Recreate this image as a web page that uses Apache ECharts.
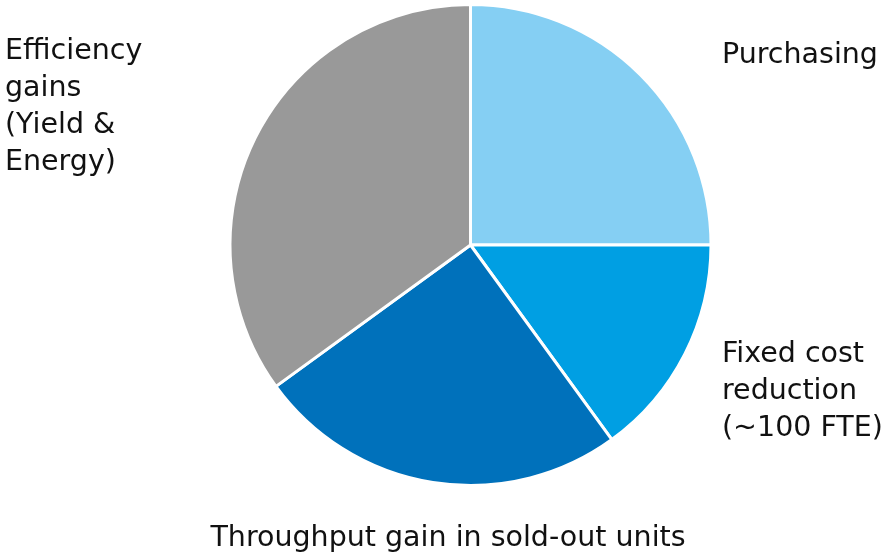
<!DOCTYPE html>
<html>
<head>
<meta charset="utf-8">
<script src="https://cdn.jsdelivr.net/npm/echarts@6/dist/echarts.min.js"></script>
<style>
html,body{margin:0;padding:0;background:#fff;}
#chart{width:881px;height:556px;}
</style>
</head>
<body>
<div id="chart"></div>
<script>
const categories = ['Purchasing', 'Fixed cost\nreduction\n(~100 FTE)', 'Throughput gain in sold-out units', 'Efficiency\ngains\n(Yield &\nEnergy)'];
const values = [25, 15, 25, 35];
const colors = ['#85CFF3', '#009FE3', '#0071BB', '#999999'];

// label anchor placements (x, y, align, verticalAlign) per slice
const labelPlacement = [
  {x: 722, y: 56, align: 'left', verticalAlign: 'middle'},
  {x: 722, y: 392, align: 'left', verticalAlign: 'middle'},
  {x: 448, y: 539, align: 'center', verticalAlign: 'middle'},
  {x: 5, y: 107, align: 'left', verticalAlign: 'middle'}
];

const chart = echarts.init(document.getElementById('chart'), null, {renderer: 'canvas'});
chart.setOption({
  animation: false,
  backgroundColor: '#fff',
  series: [{
    type: 'pie',
    center: [470.5, 245],
    radius: [0, 240.5],
    startAngle: 90,
    clockwise: true,
    data: categories.map((c, i) => ({name: c, value: values[i], itemStyle: {color: colors[i]}})),
    itemStyle: {borderColor: '#ffffff', borderWidth: 3},
    label: {
      show: true,
      position: 'outside',
      formatter: '{b}',
      fontFamily: 'DejaVu Sans',
      fontSize: 28.5,
      lineHeight: 37,
      color: '#111111',
      overflow: 'none',
      width: 800
    },
    labelLine: {show: false},
    labelLayout: function (params) {
      const p = labelPlacement[params.dataIndex];
      return {x: p.x, y: p.y, align: p.align, verticalAlign: p.verticalAlign, hideOverlap: false, moveOverlap: false};
    },
    emphasis: {disabled: true}
  }]
});
</script>
</body>
</html>
